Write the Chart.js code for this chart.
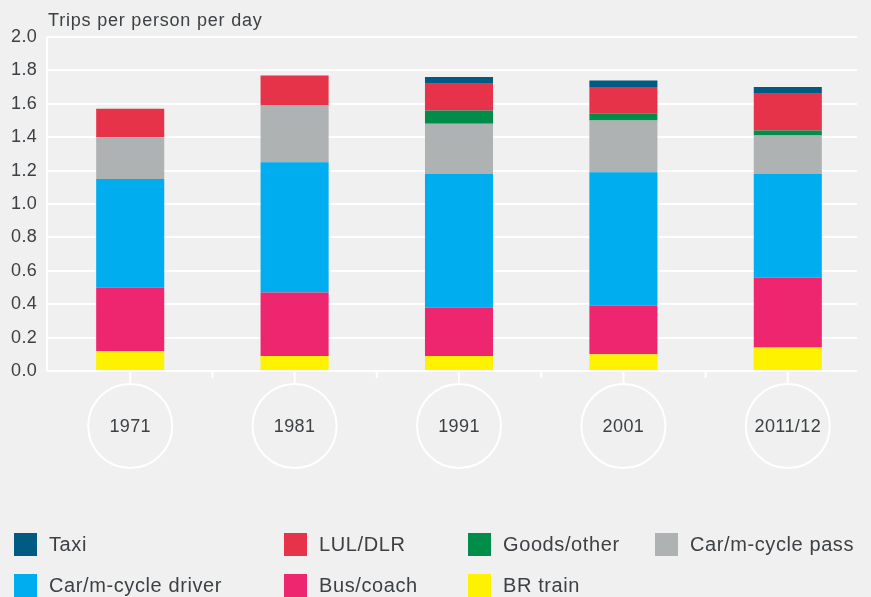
<!DOCTYPE html>
<html>
<head>
<meta charset="utf-8">
<script src="https://cdn.jsdelivr.net/npm/chart.js@4/dist/chart.umd.min.js"></script>
<style>
  html, body { margin: 0; padding: 0; background: #eff0ef; }
  #wrap { position: relative; width: 871px; height: 597px; overflow: hidden; font-family: "Liberation Sans", Arial, sans-serif; color: #3d4044; }
  #c { position: absolute; left: 0; top: 0; }
  .lg { position: absolute; height: 23px; display: flex; align-items: center; font-size: 20px; letter-spacing: 0.6px; white-space: nowrap; }
  .lg .sw { width: 23px; height: 23px; margin-right: 12px; flex: none; }
</style>
</head>
<body>
<div id="wrap">
  <canvas id="c" width="871" height="597"></canvas>
  <div id="legend"></div>
</div>
<script>
// ---- data ----
const categories = ["1971", "1981", "1991", "2001", "2011/12"];
const brTrain     = [0.12, 0.09, 0.09, 0.10, 0.14];
const busCoach    = [0.38, 0.38, 0.29, 0.29, 0.42];
const carDriver   = [0.65, 0.78, 0.80, 0.80, 0.62];
const carPass     = [0.25, 0.34, 0.30, 0.31, 0.23];
const goodsOther  = [0.00, 0.00, 0.08, 0.04, 0.03];
const lulDlr      = [0.17, 0.18, 0.16, 0.16, 0.22];
const taxi        = [0.00, 0.00, 0.04, 0.04, 0.04];
const yTicks = [0.0, 0.2, 0.4, 0.6, 0.8, 1.0, 1.2, 1.4, 1.6, 1.8, 2.0];
const yTitle = "Trips per person per day";

const TEXT = "#3d4044";
const FONT = '"Liberation Sans", Arial, sans-serif';

// stacked bottom -> top
const series = [
  { label: "BR train",           data: brTrain,    color: "#fff200" },
  { label: "Bus/coach",          data: busCoach,   color: "#ee2670" },
  { label: "Car/m-cycle driver", data: carDriver,  color: "#00aeef" },
  { label: "Car/m-cycle pass",   data: carPass,    color: "#afb2b2" },
  { label: "Goods/other",        data: goodsOther, color: "#008d4a" },
  { label: "LUL/DLR",            data: lulDlr,     color: "#e6334a" },
  { label: "Taxi",               data: taxi,       color: "#005a82" }
];

// legend (HTML, real text)
const legendOrder = ["Taxi", "LUL/DLR", "Goods/other", "Car/m-cycle pass", "Car/m-cycle driver", "Bus/coach", "BR train"];
const colLeft = [14, 284, 468, 655];
const rowTop = [533, 574];
const lg = document.getElementById("legend");
legendOrder.forEach((name, i) => {
  const s = series.find(d => d.label === name);
  const el = document.createElement("div");
  el.className = "lg";
  el.style.left = colLeft[i % 4] + "px";
  el.style.top = rowTop[Math.floor(i / 4)] + "px";
  el.innerHTML = '<span class="sw" style="background:' + s.color + '"></span><span>' + s.label + '</span>';
  lg.appendChild(el);
});

const decorPlugin = {
  id: "decor",
  beforeDraw(chart) {
    chart.ctx.letterSpacing = "0.4px";
  },
  beforeDatasetsDraw(chart) {
    const { ctx, chartArea, scales } = chart;
    const y = scales.y;
    const gridRight = 857;
    ctx.save();
    ctx.strokeStyle = "#ffffff";
    ctx.lineWidth = 2;
    yTicks.forEach(v => {
      const py = Math.round(y.getPixelForValue(v));
      ctx.beginPath();
      ctx.moveTo(chartArea.left - 1, py);
      ctx.lineTo(gridRight, py);
      ctx.stroke();
    });
    ctx.beginPath();
    ctx.moveTo(chartArea.left - 1, y.getPixelForValue(2));
    ctx.lineTo(chartArea.left - 1, y.getPixelForValue(0));
    ctx.stroke();
    ctx.restore();
  },
  afterDraw(chart) {
    const { ctx, chartArea, scales } = chart;
    const x = scales.x;
    const base = chartArea.bottom;
    ctx.save();
    ctx.strokeStyle = "#ffffff";
    ctx.lineWidth = 2;
    ctx.beginPath();
    ctx.moveTo(chartArea.left - 1, base);
    ctx.lineTo(857, base);
    ctx.stroke();
    const n = categories.length;
    for (let i = 0; i < n; i++) {
      const cx = x.getPixelForValue(i);
      if (i > 0) {
        const bx = (x.getPixelForValue(i - 1) + cx) / 2;
        ctx.beginPath();
        ctx.moveTo(bx, base);
        ctx.lineTo(bx, base + 7);
        ctx.stroke();
      }
      const cy = 426;
      const r = 42;
      ctx.beginPath();
      ctx.moveTo(cx, base);
      ctx.lineTo(cx, cy - r);
      ctx.stroke();
      ctx.beginPath();
      ctx.arc(cx, cy, r, 0, Math.PI * 2);
      ctx.stroke();
    }
    ctx.fillStyle = TEXT;
    ctx.font = "18px " + FONT;
    ctx.letterSpacing = "0.8px";
    ctx.textBaseline = "alphabetic";
    ctx.textAlign = "left";
    ctx.fillText(yTitle, 48, 26);
    ctx.restore();
  }
};

new Chart(document.getElementById("c"), {
  type: "bar",
  data: {
    labels: categories,
    datasets: series.map(s => ({
      label: s.label,
      data: s.data,
      backgroundColor: s.color,
      borderWidth: 0,
      barPercentage: 0.414,
      categoryPercentage: 1.0
    }))
  },
  options: {
    responsive: false,
    animation: false,
    devicePixelRatio: 1,
    layout: { padding: { left: 11, right: 1, top: 37, bottom: 0 } },
    plugins: { legend: { display: false }, tooltip: { enabled: false }, title: { display: false } },
    scales: {
      x: {
        stacked: true,
        grid: { display: false, drawTicks: false },
        border: { display: false },
        ticks: { color: TEXT, font: { family: FONT, size: 18 }, padding: 45, maxRotation: 0 },
        afterFit(scale) { scale.height = 226; }
      },
      y: {
        stacked: true,
        min: 0, max: 2,
        grid: { display: false, drawTicks: false },
        border: { display: false },
        ticks: {
          stepSize: 0.2,
          color: TEXT,
          font: { family: FONT, size: 18 },
          crossAlign: "far",
          padding: 0,
          callback: v => Number(v).toFixed(1)
        },
        afterFit(scale) { scale.width = 37; }
      }
    }
  },
  plugins: [decorPlugin]
});
</script>
</body>
</html>
